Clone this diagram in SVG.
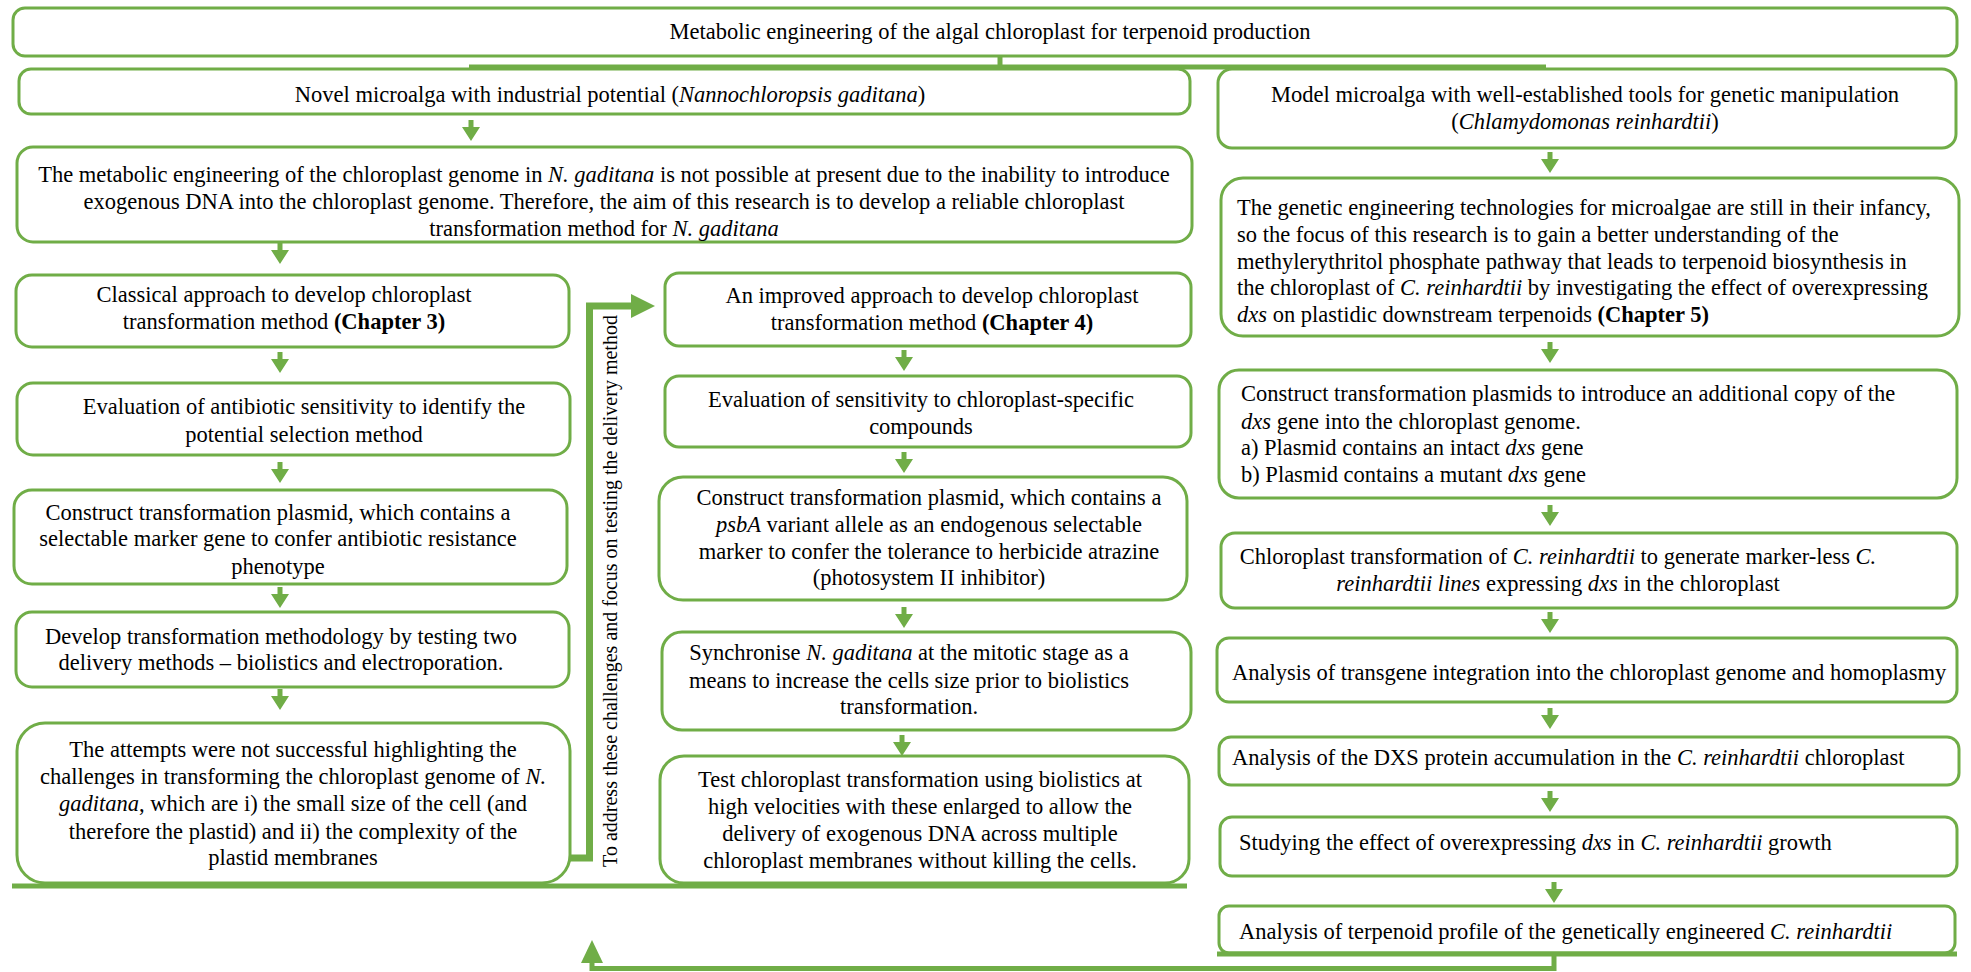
<svg xmlns="http://www.w3.org/2000/svg" xmlns:xlink="http://www.w3.org/1999/xlink" width="1971" height="972" viewBox="0 0 1971 972">
<style>
.box{fill:#fff;stroke:#70AD47;stroke-width:3}
.t{font-family:"Liberation Serif","Times New Roman",serif;font-size:22.5px;fill:#000}
.c{text-anchor:middle}
.i{font-style:italic}
.b{font-weight:bold}
.con{fill:none;stroke:#70AD47;stroke-width:5}
.ah{fill:#70AD47}
.vt{font-family:"Liberation Serif","Times New Roman",serif;font-size:20px;fill:#000;text-anchor:middle}
</style>
<defs>
<path id="dn" d="M-2.5,0 H2.5 V7 H9 L0,21 L-9,7 H-2.5 Z" fill="#70AD47"/>
</defs>
<rect width="1971" height="972" fill="#fff"/>

<g id="connectors">
<line class="con" x1="1000" y1="56" x2="1000" y2="67"/>
<line class="con" x1="469" y1="67" x2="1546" y2="67"/>
<use xlink:href="#dn" x="471" y="120"/>
<use xlink:href="#dn" x="280" y="243"/>
<use xlink:href="#dn" x="280" y="352"/>
<use xlink:href="#dn" x="280" y="462"/>
<use xlink:href="#dn" x="280" y="587"/>
<use xlink:href="#dn" x="280" y="689"/>
<use xlink:href="#dn" x="904" y="350"/>
<use xlink:href="#dn" x="904" y="452"/>
<use xlink:href="#dn" x="904" y="607"/>
<use xlink:href="#dn" x="902" y="735"/>
<use xlink:href="#dn" x="1550" y="152"/>
<use xlink:href="#dn" x="1550" y="342"/>
<use xlink:href="#dn" x="1550" y="505"/>
<use xlink:href="#dn" x="1550" y="612"/>
<use xlink:href="#dn" x="1550" y="708"/>
<use xlink:href="#dn" x="1550" y="791"/>
<use xlink:href="#dn" x="1554" y="882"/>
<polyline class="con" style="stroke-width:7" points="570,858 589.5,858 589.5,306 633,306"/>
<polygon class="ah" points="631,294 655,306 631,318"/>
<line class="con" x1="12" y1="886" x2="1187" y2="886"/>
<polyline class="con" points="1554,955 1554,968.5 592,968.5 592,960"/>
<polygon class="ah" points="581,963 603,963 592,940"/>
<text class="vt" transform="translate(617,591) rotate(-90)">To address these challenges and focus on testing the delivery method</text>
</g>

<g id="n-title">
<rect class="box" x="13" y="8" width="1944" height="48" rx="12"/>
<text class="t c" x="990" y="39">Metabolic engineering of the algal chloroplast for terpenoid production</text>
</g>

<g id="n-novel">
<rect class="box" x="19" y="69" width="1171" height="45" rx="12"/>
<text class="t c" x="610" y="102">Novel microalga with industrial potential (<tspan class="i">Nannochloropsis gaditana</tspan>)</text>
</g>

<g id="n-model">
<rect class="box" x="1218" y="69" width="738" height="79" rx="14"/>
<text class="t c" x="1585" y="102">Model microalga with well-established tools for genetic manipulation</text>
<text class="t c" x="1585" y="129">(<tspan class="i">Chlamydomonas reinhardtii</tspan>)</text>
</g>

<g id="n-aim-ng">
<rect class="box" x="17" y="147" width="1175" height="95" rx="16"/>
<text class="t c" x="604" y="182">The metabolic engineering of the chloroplast genome in <tspan class="i">N. gaditana</tspan> is not possible at present due to the inability to introduce</text>
<text class="t c" x="604" y="209">exogenous DNA into the chloroplast genome. Therefore, the aim of this research is to develop a reliable chloroplast</text>
<text class="t c" x="604" y="236">transformation method for <tspan class="i">N. gaditana</tspan></text>
</g>

<g id="n-aim-cr">
<rect class="box" x="1221" y="178" width="738" height="158" rx="22"/>
<text class="t" x="1237" y="215">The genetic engineering technologies for microalgae are still in their infancy,</text>
<text class="t" x="1237" y="242">so the focus of this research is to gain a better understanding of the</text>
<text class="t" x="1237" y="269">methylerythritol phosphate pathway that leads to terpenoid biosynthesis in</text>
<text class="t" x="1237" y="295">the chloroplast of <tspan class="i">C. reinhardtii</tspan> by investigating the effect of overexpressing</text>
<text class="t" x="1237" y="322"><tspan class="i">dxs</tspan> on plastidic downstream terpenoids <tspan class="b">(Chapter 5)</tspan></text>
</g>

<g id="n-classical">
<rect class="box" x="16" y="275" width="553" height="72" rx="16"/>
<text class="t c" x="284" y="302">Classical approach to develop chloroplast</text>
<text class="t c" x="284" y="329">transformation method <tspan class="b">(Chapter 3)</tspan></text>
</g>

<g id="n-antibiotic">
<rect class="box" x="17" y="383" width="553" height="72" rx="16"/>
<text class="t c" x="304" y="414">Evaluation of antibiotic sensitivity to identify the</text>
<text class="t c" x="304" y="442">potential selection method</text>
</g>

<g id="n-plasmid-ng">
<rect class="box" x="14" y="490" width="553" height="94" rx="18"/>
<text class="t c" x="278" y="520">Construct transformation plasmid, which contains a</text>
<text class="t c" x="278" y="546">selectable marker gene to confer antibiotic resistance</text>
<text class="t c" x="278" y="574">phenotype</text>
</g>

<g id="n-develop">
<rect class="box" x="16" y="612" width="553" height="75" rx="16"/>
<text class="t c" x="281" y="644">Develop transformation methodology by testing two</text>
<text class="t c" x="281" y="670">delivery methods – biolistics and electroporation.</text>
</g>

<g id="n-attempts">
<rect class="box" x="17" y="723" width="553" height="160" rx="28"/>
<text class="t c" x="293" y="757">The attempts were not successful highlighting the</text>
<text class="t c" x="293" y="784">challenges in transforming the chloroplast genome of <tspan class="i">N.</tspan></text>
<text class="t c" x="293" y="811"><tspan class="i">gaditana</tspan>, which are i) the small size of the cell (and</text>
<text class="t c" x="293" y="839">therefore the plastid) and ii) the complexity of the</text>
<text class="t c" x="293" y="865">plastid membranes</text>
</g>

<g id="n-improved">
<rect class="box" x="665" y="273" width="526" height="73" rx="14"/>
<text class="t c" x="932" y="303">An improved approach to develop chloroplast</text>
<text class="t c" x="932" y="330">transformation method <tspan class="b">(Chapter 4)</tspan></text>
</g>

<g id="n-sensitivity">
<rect class="box" x="665" y="376" width="526" height="71" rx="14"/>
<text class="t c" x="921" y="407">Evaluation of sensitivity to chloroplast-specific</text>
<text class="t c" x="921" y="434">compounds</text>
</g>

<g id="n-psba">
<rect class="box" x="659" y="477" width="528" height="123" rx="24"/>
<text class="t c" x="929" y="505">Construct transformation plasmid, which contains a</text>
<text class="t c" x="929" y="532"><tspan class="i">psbA</tspan> variant allele as an endogenous selectable</text>
<text class="t c" x="929" y="559">marker to confer the tolerance to herbicide atrazine</text>
<text class="t c" x="929" y="585">(photosystem II inhibitor)</text>
</g>

<g id="n-sync">
<rect class="box" x="662" y="632" width="529" height="98" rx="20"/>
<text class="t c" x="909" y="660">Synchronise <tspan class="i">N. gaditana</tspan> at the mitotic stage as a</text>
<text class="t c" x="909" y="688">means to increase the cells size prior to biolistics</text>
<text class="t c" x="909" y="714">transformation.</text>
</g>

<g id="n-test">
<rect class="box" x="660" y="756" width="529" height="127" rx="24"/>
<text class="t c" x="920" y="787">Test chloroplast transformation using biolistics at</text>
<text class="t c" x="920" y="814">high velocities with these enlarged to allow the</text>
<text class="t c" x="920" y="841">delivery of exogenous DNA across multiple</text>
<text class="t c" x="920" y="868">chloroplast membranes without killing the cells.</text>
</g>

<g id="n-plasmids-cr">
<rect class="box" x="1219" y="370" width="738" height="128" rx="20"/>
<text class="t" x="1241" y="401">Construct transformation plasmids to introduce an additional copy of the</text>
<text class="t" x="1241" y="429"><tspan class="i">dxs</tspan> gene into the chloroplast genome.</text>
<text class="t" x="1241" y="455">a) Plasmid contains an intact <tspan class="i">dxs</tspan> gene</text>
<text class="t" x="1241" y="482">b) Plasmid contains a mutant <tspan class="i">dxs</tspan> gene</text>
</g>

<g id="n-transform-cr">
<rect class="box" x="1221" y="533" width="736" height="75" rx="14"/>
<text class="t c" x="1558" y="564">Chloroplast transformation of <tspan class="i">C. reinhardtii</tspan> to generate marker-less <tspan class="i">C.</tspan></text>
<text class="t c" x="1558" y="591"><tspan class="i">reinhardtii lines</tspan> expressing <tspan class="i">dxs</tspan> in the chloroplast</text>
</g>

<g id="n-integration">
<rect class="box" x="1217" y="638" width="740" height="64" rx="12"/>
<text class="t" x="1232" y="680">Analysis of transgene integration into the chloroplast genome and homoplasmy</text>
</g>

<g id="n-dxs-protein">
<rect class="box" x="1219" y="737" width="740" height="48" rx="12"/>
<text class="t" x="1232" y="765">Analysis of the DXS protein accumulation in the <tspan class="i">C. reinhardtii</tspan> chloroplast</text>
</g>

<g id="n-growth">
<rect class="box" x="1220" y="817" width="737" height="59" rx="12"/>
<text class="t" x="1239" y="850">Studying the effect of overexpressing <tspan class="i">dxs</tspan> in <tspan class="i">C. reinhardtii</tspan> growth</text>
</g>

<g id="n-terpenoid">
<rect class="box" x="1219" y="906" width="736" height="47" rx="10"/>
<line class="con" x1="1217" y1="954" x2="1957" y2="954"/>
<text class="t" x="1239" y="939">Analysis of terpenoid profile of the genetically engineered <tspan class="i">C. reinhardtii</tspan></text>
</g>
</svg>
